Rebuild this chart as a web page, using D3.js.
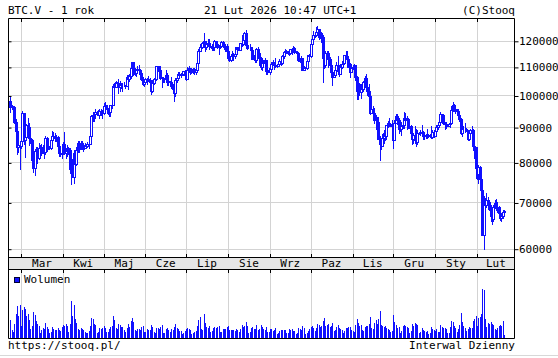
<!DOCTYPE html>
<html>
<head>
<meta charset="utf-8">
<script src="https://cdn.jsdelivr.net/npm/d3@7"></script>
<style>
body { margin: 0; background: #fff; }
svg text { font-family: "DejaVu Sans Mono", monospace; font-size: 11px; fill: #000; }
</style>
</head>
<body>
<svg id="chart" width="558" height="358"></svg>
<script>
// daily candles, BTC.V, in thousands USD, from 21 Feb 2025 to 21 Feb 2026
var firstDay = Date.UTC(2025, 1, 21);
var firstOpen = 98.3;
var closes = [
 96.1,96.6,96.3,91.4,88.7,84.3,84.7,84.4,
 86.0,94.3,86.1,87.2,90.6,89.9,86.7,86.2,80.6,78.5,83.0,83.7,81.1,83.9,84.3,82.6,84.1,82.7,86.9,84.2,84.0,83.8,86.1,87.5,87.5,86.9,87.2,84.4,82.6,82.3,82.5,
 85.2,82.5,83.1,83.8,83.5,78.2,79.2,76.3,82.6,79.6,83.4,85.3,83.7,84.5,83.7,84.0,84.9,84.5,85.1,85.2,87.5,93.4,93.7,93.9,94.7,94.6,93.8,95.0,94.3,94.2,
 96.5,96.9,95.9,94.3,94.7,96.8,97.0,103.2,102.9,104.6,104.1,102.8,104.2,103.5,103.7,103.6,103.1,106.5,105.6,106.8,109.7,111.7,107.3,107.8,109.0,109.4,108.9,107.8,105.6,103.9,104.6,
 105.7,105.8,105.4,104.7,101.6,104.4,105.6,105.8,110.3,110.3,108.7,105.9,106.1,105.5,105.6,107.0,104.6,104.9,104.6,103.3,102.3,101.0,105.4,106.0,107.3,106.9,107.1,107.4,108.4,107.1,
 105.7,108.8,109.6,108.0,108.2,109.2,108.3,108.9,111.3,115.9,117.5,117.4,119.1,119.8,117.7,118.8,119.3,117.9,117.9,117.3,117.4,120.0,118.8,118.4,117.6,117.9,119.4,118.0,117.9,117.8,115.8,
 113.3,112.5,114.2,115.0,114.1,115.0,117.5,116.7,116.5,119.3,118.7,120.2,123.3,118.4,117.4,117.5,117.5,116.3,112.9,114.3,112.4,116.9,115.4,113.5,110.1,111.8,111.3,112.6,108.4,108.8,108.2,
 109.2,111.2,111.7,110.7,110.7,110.2,111.1,112.1,111.5,113.9,115.5,116.1,115.9,115.3,115.4,116.8,116.5,117.1,115.7,115.7,115.3,112.7,112.0,113.3,109.0,109.7,109.7,112.1,114.4,114.0,
 118.6,120.6,122.3,122.4,123.5,124.8,121.4,123.3,121.7,113.2,110.6,115.2,115.3,113.1,110.8,108.2,106.5,107.2,108.7,110.6,108.5,107.6,110.1,111.0,111.6,114.5,114.1,112.9,110.0,108.3,109.6,
 110.1,110.6,106.5,101.6,103.9,101.3,103.3,102.3,104.7,105.9,103.0,101.6,99.7,94.4,95.5,94.2,92.2,92.9,91.5,86.6,85.1,84.6,86.8,88.3,87.3,90.5,91.3,90.9,90.8,90.4,
 86.3,91.3,93.5,92.1,89.4,89.3,90.4,90.6,92.7,92.0,92.5,90.3,90.3,88.2,86.4,87.8,86.1,85.5,88.1,88.3,88.6,88.5,87.4,87.6,87.3,87.3,87.8,87.8,87.1,88.4,87.5,
 88.7,89.9,90.6,91.4,93.9,93.7,91.3,91.0,90.5,90.4,90.8,91.1,95.3,97.0,95.6,95.5,95.1,93.6,92.6,88.3,89.4,89.5,89.5,89.2,86.6,88.3,89.1,89.2,84.5,84.1,78.6,
 76.9,78.7,75.6,73.0,62.9,70.5,69.3,70.5,70.1,68.8,67.0,66.2,68.9,69.8,68.8,68.9,67.5,66.4,66.9,67.9,68.1
];
var highs = [
 99.5,96.9,96.5,96.5,92.5,89.3,87.0,85.0,
 86.5,95.0,94.4,88.9,91.0,92.8,91.2,86.8,86.4,83.9,83.6,84.3,84.3,85.3,84.7,85.0,84.8,84.1,87.4,87.0,84.7,84.5,86.1,88.7,88.5,88.2,87.8,87.5,84.6,83.5,83.9,
 85.5,88.5,83.9,84.7,84.2,83.8,81.1,80.8,83.5,82.7,84.3,85.8,86.0,85.8,86.0,85.4,85.4,85.0,85.6,85.3,88.5,93.8,94.7,94.0,95.7,95.1,95.3,95.5,95.5,95.2,
 97.4,97.9,96.9,96.0,95.2,97.0,97.7,104.0,104.1,104.9,104.6,105.7,104.9,104.3,104.1,104.5,103.7,107.1,107.0,107.3,110.7,111.9,111.8,109.5,109.3,110.4,110.7,109.3,108.9,106.3,104.9,
 105.9,105.9,106.8,105.9,105.0,105.4,105.9,106.0,110.5,110.4,110.4,108.9,106.2,106.2,106.0,108.9,107.7,105.6,105.0,106.5,103.9,103.0,106.1,106.3,108.0,108.2,107.7,107.5,108.5,108.8,
 107.5,109.8,110.5,109.7,108.4,109.7,109.7,109.2,111.9,116.8,118.9,118.0,119.5,123.1,119.9,120.0,120.9,120.8,118.5,118.8,119.7,120.2,120.1,119.5,118.3,118.3,119.8,119.8,119.2,118.8,118.9,
 116.0,114.0,114.7,115.8,115.1,115.6,117.6,117.7,117.9,119.3,122.3,120.3,123.6,124.5,119.2,117.9,118.6,117.7,116.7,114.6,114.5,117.3,117.4,115.7,113.6,112.3,112.6,113.5,112.6,108.9,109.5,
 109.9,111.7,112.6,111.8,113.4,111.0,111.6,112.8,113.3,114.3,115.5,116.7,116.3,116.1,116.8,116.9,117.0,117.9,117.5,116.1,115.9,115.4,113.3,113.9,113.5,110.3,109.8,112.4,114.5,114.8,
 118.6,121.0,123.9,122.9,125.6,126.2,125.0,124.2,123.7,122.5,113.3,115.8,116.0,115.9,113.6,111.7,108.9,107.6,109.4,111.7,113.9,109.1,111.0,112.0,111.9,114.6,116.0,116.1,113.6,111.4,111.1,
 110.5,111.0,110.8,106.6,104.6,104.1,104.0,103.5,105.0,106.6,107.3,105.3,104.0,99.9,96.8,96.6,96.0,93.8,93.1,93.1,87.5,85.6,88.0,89.2,88.8,90.6,91.9,92.9,91.2,92.0,
 91.0,92.2,94.1,94.0,92.7,90.3,91.5,92.2,94.5,94.4,93.5,92.8,90.6,90.5,90.0,88.1,90.3,89.4,89.0,88.5,89.0,90.5,88.8,87.9,88.0,89.4,87.9,88.0,90.3,89.0,89.1,
 88.9,90.7,90.7,91.7,94.7,94.0,93.8,91.5,91.6,90.8,91.2,92.4,96.4,97.9,97.2,95.8,95.6,95.5,93.4,92.8,90.3,90.3,91.2,89.8,89.2,88.8,89.4,90.4,89.3,84.4,84.1,
 79.3,79.3,79.1,76.8,73.1,71.6,71.0,72.2,71.2,70.4,69.3,68.3,69.4,70.5,70.9,70.0,69.2,68.4,67.3,68.3,68.3
];
var lows = [
 94.8,95.7,95.2,91.3,86.1,82.3,82.8,78.2,
 83.8,85.1,85.1,81.5,86.4,87.9,84.7,85.3,80.1,77.5,76.6,80.1,79.9,80.9,83.7,82.1,82.5,81.2,82.2,83.2,83.7,83.6,83.7,85.6,86.4,85.9,85.9,83.6,81.7,81.6,81.3,
 82.4,82.3,81.3,81.7,82.4,77.2,74.4,76.2,74.6,78.5,79.4,82.8,82.8,83.7,83.6,83.2,83.9,84.3,84.3,83.9,85.1,87.3,91.9,91.7,92.8,93.9,93.6,92.9,93.7,92.9,
 94.1,96.2,95.7,94.1,93.5,93.4,95.9,97.0,102.4,102.9,103.4,100.8,101.5,102.6,101.4,103.1,102.6,103.1,102.1,104.9,106.1,109.3,106.9,107.0,106.7,108.8,107.6,106.8,105.4,103.6,103.1,
 103.9,103.8,105.1,104.2,100.4,101.2,103.9,105.0,105.4,108.4,108.1,105.7,102.8,104.5,104.7,105.6,103.4,103.6,103.9,102.4,101.0,98.2,99.7,104.7,105.9,106.6,106.5,106.9,107.2,106.8,
 105.3,105.7,108.6,107.3,107.8,107.9,107.5,107.6,108.4,110.6,115.9,116.9,117.3,118.9,115.8,116.8,118.0,116.8,117.5,116.5,116.5,116.2,117.4,117.3,114.7,117.3,117.9,117.5,116.9,115.8,115.5,
 112.7,112.0,112.2,114.0,112.7,113.3,114.3,115.9,116.2,116.6,118.1,118.2,118.9,117.2,116.8,117.2,117.3,114.7,112.8,112.4,111.9,111.7,114.7,110.8,109.4,108.7,110.4,110.9,107.5,107.4,108.1,
 107.3,108.7,110.6,109.4,110.1,109.9,110.2,110.7,110.8,110.9,113.4,114.8,115.3,114.8,114.6,114.8,114.8,116.4,115.2,115.4,115.2,112.0,111.7,111.1,108.7,108.7,109.1,109.2,111.6,112.7,
 113.8,118.0,119.4,121.7,122.0,123.1,120.7,121.1,119.6,104.6,109.6,109.8,113.8,109.9,110.2,107.7,103.5,106.3,106.9,107.5,107.5,106.7,107.4,109.7,110.8,111.3,113.9,112.0,109.9,106.3,108.3,
 109.4,109.8,105.3,98.9,98.9,100.3,99.3,101.4,101.5,104.5,102.5,100.0,98.1,94.1,94.6,93.0,91.3,89.3,88.6,86.4,80.6,83.6,84.6,85.3,86.2,86.4,90.0,90.3,90.3,90.3,
 83.8,86.2,91.1,90.9,88.2,88.9,87.8,89.6,89.6,91.7,89.3,89.6,89.8,87.6,85.2,85.3,85.3,84.4,85.1,88.0,87.6,88.3,86.6,86.4,86.9,86.7,87.2,87.4,86.8,86.9,87.2,
 87.4,88.3,89.4,90.2,91.0,91.3,90.9,89.4,89.6,90.3,90.2,90.0,91.0,94.9,95.0,94.4,94.9,93.3,91.9,87.9,87.3,88.5,88.5,88.9,86.1,86.1,87.3,88.9,83.3,81.1,76.0,
 75.8,74.6,73.1,72.1,62.7,60.0,68.0,69.0,68.4,68.2,65.8,65.2,65.9,68.7,68.2,67.9,66.6,66.1,65.7,66.5,67.7
];
var volumes = [
 18,8,6,14,24,32,22,33,
 12,28,31,29,22,24,18,9,12,26,23,17,14,12,5,8,10,9,15,11,9,5,6,11,9,8,8,10,8,7,11,
 13,12,14,12,6,14,37,22,33,19,15,9,8,10,9,8,6,5,5,7,12,20,19,14,13,5,6,10,9,10,
 12,10,6,6,9,11,12,22,18,10,9,14,13,11,11,8,6,10,14,11,17,20,16,8,7,9,9,8,11,12,6,
 6,9,8,8,13,11,6,5,10,10,9,11,13,5,5,9,10,8,6,9,8,11,14,10,9,7,7,4,5,7,
 9,10,9,8,4,5,6,7,12,18,21,9,8,24,15,11,10,12,6,7,10,11,10,11,12,6,6,9,9,9,11,
 12,8,8,8,8,7,9,8,6,9,13,11,12,16,12,5,6,10,11,9,9,13,8,9,13,11,9,8,11,6,6,
 9,9,7,8,10,4,5,7,8,8,8,8,5,5,9,8,9,7,7,4,5,10,9,8,12,10,4,5,7,9,
 11,12,10,7,10,14,13,11,12,17,20,12,13,14,11,12,15,7,8,11,13,10,9,8,5,7,10,10,11,11,8,
 7,6,13,19,15,12,13,8,7,11,12,12,14,21,10,9,15,18,14,19,27,13,12,11,12,10,9,8,6,7,
 23,16,13,10,11,5,7,12,13,12,11,10,5,7,14,12,15,14,13,5,6,10,8,7,6,7,4,5,11,9,8,
 7,9,6,6,13,11,10,10,9,5,5,11,17,16,12,10,6,9,13,25,16,12,10,7,9,11,10,10,17,19,22,
 12,20,21,24,49,48,19,11,15,14,16,14,13,9,8,10,12,13,12,17,3
];
var monthNames = ["Mar", "Kwi", "Maj", "Cze", "Lip", "Sie", "Wrz", "Paz", "Lis", "Gru", "Sty", "Lut"];
var priceTicks = [60000, 70000, 80000, 90000, 100000, 110000, 120000];

var blue = "#1010ff", grid = "#d3d3d3";
var plotL = 8, plotR = 514, plotT = 18, mainB = 257, bandB = 269, volB = 338;

var n = Math.min(closes.length, highs.length, lows.length, volumes.length);
var data = [];
for (var i = 0; i < n; i++) {
    data.push({
        date: d3.utcDay.offset(new Date(firstDay), i),
        o: (i ? closes[i - 1] : firstOpen) * 1000,
        h: highs[i] * 1000,
        l: lows[i] * 1000,
        c: closes[i] * 1000,
        v: volumes[i]
    });
}
var monthStarts = d3.utcMonths(new Date(Date.UTC(2025, 2, 1)), new Date(Date.UTC(2026, 2, 1)));

var x = d3.scaleUtc()
    .domain([new Date(Date.UTC(2025, 2, 1)), new Date(Date.UTC(2026, 1, 1))])
    .range([21, 477]);
var y = d3.scaleLog().domain([58360, 129480]).range([mainB, plotT]);
var yVol = d3.scaleLinear().domain([0, d3.max(volumes)]).range([volB, 289]);

var px = function (v) { return Math.round(v) + 0.5; };

var svg = d3.select("#chart");
svg.append("defs").append("clipPath").attr("id", "clipMain")
    .append("rect").attr("x", plotL + 1).attr("y", plotT + 1)
    .attr("width", plotR - plotL - 1).attr("height", mainB - plotT - 1);

// grid
svg.append("g").selectAll("line").data(priceTicks).enter().append("line")
    .attr("x1", plotL).attr("x2", plotR)
    .attr("y1", function (d) { return px(y(d)); })
    .attr("y2", function (d) { return px(y(d)); })
    .attr("stroke", grid);
var vg = svg.append("g");
[[plotT, mainB], [bandB, volB]].forEach(function (r) {
    vg.append("g").selectAll("line").data(monthStarts).enter().append("line")
        .attr("x1", function (d) { return px(x(d)); })
        .attr("x2", function (d) { return px(x(d)); })
        .attr("y1", r[0]).attr("y2", r[1])
        .attr("stroke", grid);
});

// label band
svg.append("rect").attr("x", plotL).attr("y", mainB)
    .attr("width", plotR - plotL).attr("height", bandB - mainB).attr("fill", "#e6e6e6");

// frame
var frame = svg.append("g").attr("stroke", "#000").attr("fill", "none");
frame.append("path").attr("d",
    "M" + (plotL + 0.5) + "," + (volB + 0.5) + "V" + (plotT + 0.5) + "H" + (plotR + 0.5) + "V" + (volB + 0.5) + "H" + (plotL + 0.5) +
    "M" + plotL + "," + (mainB + 0.5) + "H" + (plotR + 1) +
    "M" + plotL + "," + (bandB + 0.5) + "H" + (plotR + 1));

// month ticks
var mt = svg.append("g").attr("stroke", "#000");
monthStarts.forEach(function (m) {
    var xx = px(x(m));
    mt.append("line").attr("x1", xx).attr("x2", xx).attr("y1", plotT).attr("y2", plotT + 4);
    mt.append("line").attr("x1", xx).attr("x2", xx).attr("y1", mainB - 3).attr("y2", mainB);
    mt.append("line").attr("x1", xx).attr("x2", xx).attr("y1", bandB).attr("y2", bandB + 4);
});

// month labels
svg.append("g").selectAll("text").data(monthStarts).enter().append("text")
    .attr("x", function (d) { return (x(d) + x(d3.utcMonth.offset(d, 1))) / 2; })
    .attr("y", 267)
    .attr("text-anchor", "middle")
    .text(function (d, i) { return monthNames[i]; });

// price axes
var yAxis = d3.axisRight(y).tickValues(priceTicks).tickSize(4).tickPadding(1).tickFormat(d3.format("d"));
var ya = svg.append("g").attr("transform", "translate(" + (plotR + 0.5) + ",0.5)").call(yAxis);
ya.select(".domain").remove();
ya.selectAll("text").attr("font-family", null).attr("font-size", null).attr("x", 4.5);
var yl = svg.append("g").attr("transform", "translate(" + (plotL + 0.5) + ",0.5)")
    .call(d3.axisRight(y).tickValues(priceTicks).tickSize(3).tickFormat(""));
yl.select(".domain").remove();

// candles
var candles = svg.append("g").attr("clip-path", "url(#clipMain)");
data.forEach(function (d) {
    var cx = px(x(d.date));
    var up = d.c >= d.o;
    candles.append("line")
        .attr("x1", cx).attr("x2", cx)
        .attr("y1", Math.round(y(d.h))).attr("y2", Math.round(y(d.l)) + 1)
        .attr("stroke", blue);
    var yt = Math.round(y(Math.max(d.o, d.c))), yb = Math.round(y(Math.min(d.o, d.c)));
    candles.append("rect")
        .attr("x", cx - 1).attr("y", yt + 0.5)
        .attr("width", 2).attr("height", Math.max(yb - yt, 0))
        .attr("fill", up ? "#fff" : blue)
        .attr("stroke", blue);
});

// volume
svg.append("g").selectAll("rect").data(data).enter().append("rect")
    .attr("x", function (d) { return Math.round(x(d.date)); })
    .attr("y", function (d) { return Math.round(yVol(d.v)); })
    .attr("width", 1)
    .attr("height", function (d) { return volB - Math.round(yVol(d.v)); })
    .attr("fill", blue);

svg.append("rect").attr("x", 14.5).attr("y", 277.5).attr("width", 5).attr("height", 5)
    .attr("fill", blue).attr("stroke", "#000033");
svg.append("text").attr("x", 24).attr("y", 283).text("Wolumen");

// texts
svg.append("text").attr("x", 8).attr("y", 14).text("BTC.V - 1 rok");
svg.append("text").attr("x", 204).attr("y", 14).text("21 Lut 2026 10:47 UTC+1");
svg.append("text").attr("x", 515).attr("y", 14).attr("text-anchor", "end").text("(C)Stooq");
svg.append("text").attr("x", 8).attr("y", 349).text("https://stooq.pl/");
svg.append("text").attr("x", 515).attr("y", 349).attr("text-anchor", "end").text("Interwal Dzienny");
svg.append("line").attr("x1", 0).attr("x2", 558).attr("y1", 355.5).attr("y2", 355.5).attr("stroke", "#d8d8d8");
</script>
</body>
</html>
